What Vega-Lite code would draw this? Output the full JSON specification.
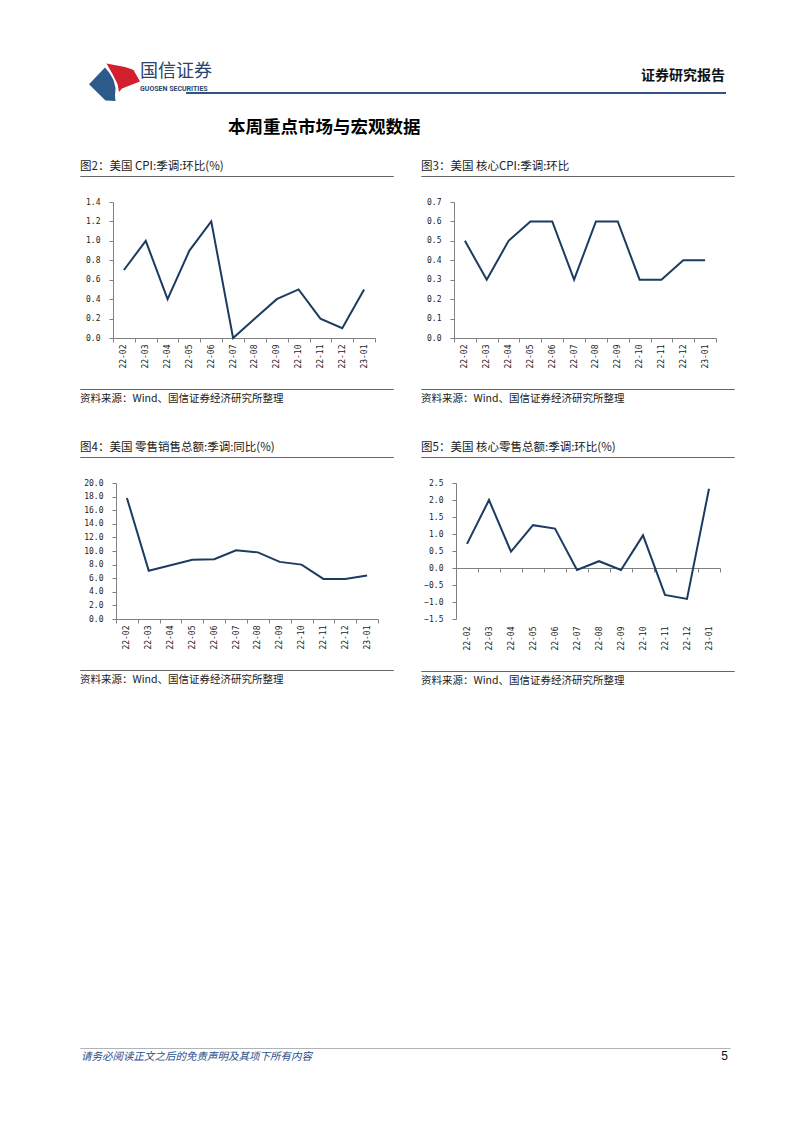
{
  "$schema": "https://vega.github.io/schema/vega-lite/v6.json",
  "padding": {"left": 76, "top": 62, "right": 77, "bottom": 20},
  "background": "white",
  "datasets": {
    "cpi": [
      {"m": "22-02", "v": 0.7}, {"m": "22-03", "v": 1.0}, {"m": "22-04", "v": 0.4}, {"m": "22-05", "v": 0.9},
      {"m": "22-06", "v": 1.2}, {"m": "22-07", "v": 0.0}, {"m": "22-08", "v": 0.2}, {"m": "22-09", "v": 0.4},
      {"m": "22-10", "v": 0.5}, {"m": "22-11", "v": 0.2}, {"m": "22-12", "v": 0.1}, {"m": "23-01", "v": 0.5}
    ],
    "core": [
      {"m": "22-02", "v": 0.5}, {"m": "22-03", "v": 0.3}, {"m": "22-04", "v": 0.5}, {"m": "22-05", "v": 0.6},
      {"m": "22-06", "v": 0.6}, {"m": "22-07", "v": 0.3}, {"m": "22-08", "v": 0.6}, {"m": "22-09", "v": 0.6},
      {"m": "22-10", "v": 0.3}, {"m": "22-11", "v": 0.3}, {"m": "22-12", "v": 0.4}, {"m": "23-01", "v": 0.4}
    ],
    "retail": [
      {"m": "22-02", "v": 17.8}, {"m": "22-03", "v": 7.1}, {"m": "22-04", "v": 7.9}, {"m": "22-05", "v": 8.7},
      {"m": "22-06", "v": 8.8}, {"m": "22-07", "v": 10.1}, {"m": "22-08", "v": 9.8}, {"m": "22-09", "v": 8.4},
      {"m": "22-10", "v": 8.0}, {"m": "22-11", "v": 5.9}, {"m": "22-12", "v": 5.9}, {"m": "23-01", "v": 6.4}
    ],
    "coreRetail": [
      {"m": "22-02", "v": 0.71}, {"m": "22-03", "v": 2.0}, {"m": "22-04", "v": 0.48}, {"m": "22-05", "v": 1.26},
      {"m": "22-06", "v": 1.16}, {"m": "22-07", "v": -0.06}, {"m": "22-08", "v": 0.2}, {"m": "22-09", "v": -0.06},
      {"m": "22-10", "v": 0.96}, {"m": "22-11", "v": -0.79}, {"m": "22-12", "v": -0.91}, {"m": "23-01", "v": 2.33}
    ]
  },
  "vconcat": [
    {
      "spacing": 35,
      "vconcat": [
        {
          "spacing": 16,
          "vconcat": [
            {
              "spacing": -1,
              "hconcat": [
                {
                  "width": 55,
                  "height": 0.01,
                  "data": {"values": [{"part": "logo"}]},
                  "layer": [
                    {
                      "mark": {"type": "point", "shape": "M-0.1,-2.95L1.75,-2.6L2.35,-2.4L2.6,-2.3L3.25,-1.15L1.45,-0.45L1.15,-0.1L1.0,-0.9L0.5,-1.9Z", "size": 400, "filled": true, "color": "#d3202f", "opacity": 1, "strokeWidth": 0},
                      "encoding": {}
                    },
                    {
                      "mark": {"type": "point", "shape": "M-1.85,-0.87L-0.25,-2.55L0.2,-2.0L0.6,-1.3L0.8,-0.5L0.75,0.3L0.8,0.8L-0.2,0.75Z", "size": 400, "filled": true, "color": "#2b5a8b", "opacity": 1, "strokeWidth": 0},
                      "encoding": {}
                    }
                  ]
                },
                {
                  "width": 538,
                  "height": 0.01,
                  "view": {"stroke": "#2f5486", "strokeWidth": 2},
                  "encoding": {
                    "x": {"field": "side", "type": "nominal", "scale": {"type": "point", "domain": ["start", "end"], "padding": 0}, "axis": null}
                  },
                  "layer": [
                    {
                      "data": {"values": [{"side": "start", "label": "国信证券"}]},
                      "mark": {"type": "text", "align": "left", "baseline": "bottom", "dx": -47, "dy": -12, "font": "Noto Sans CJK SC", "fontSize": 18, "color": "#2b4468"},
                      "encoding": {"text": {"field": "label"}}
                    },
                    {
                      "data": {"values": [{"side": "start", "label": "GUOSEN SECURITIES"}]},
                      "mark": {"type": "text", "align": "left", "baseline": "bottom", "dx": -47, "dy": -1, "font": "Roboto", "fontSize": 7, "fontWeight": "bold", "color": "#2b4468"},
                      "encoding": {"text": {"field": "label"}}
                    },
                    {
                      "data": {"values": [{"side": "end", "label": "证券研究报告"}]},
                      "mark": {"type": "text", "align": "right", "baseline": "bottom", "dy": -10, "font": "Noto Sans CJK SC", "fontSize": 14, "fontWeight": "bold", "color": "#111111"},
                      "encoding": {"text": {"field": "label"}}
                    }
                  ]
                }
              ]
            },
            {
              "title": {"text": "本周重点市场与宏观数据", "anchor": "start", "dx": 152, "fontSize": 17.5, "fontWeight": "bold", "offset": 24, "color": "#000000"},
              "spacing": 23,
              "hconcat": [
                {
                  "spacing": 19,
                  "vconcat": [
                    {"width": 313, "height": 0.01, "view": {"stroke": "#666666", "strokeWidth": 1}, "title": {"text": "图2：美国 CPI:季调:环比(%)", "offset": 4}, "data": {"values": []}, "mark": "point", "encoding": {}},
                    {
                      "width": 313, "height": 136,
                      "data": {"name": "cpi"},
                      "mark": {"type": "line", "color": "#1c3b61", "strokeWidth": 2},
                      "encoding": {
                        "x": {"field": "m", "type": "ordinal", "sort": null, "bandPosition": 0.5, "scale": {"type": "band", "paddingInner": 0, "paddingOuter": 0, "range": [33, 295]}, "axis": {"title": null, "labelAngle": 270, "tickBand": "extent", "labelPadding": 2}},
                        "y": {"field": "v", "type": "quantitative", "scale": {"domain": [0, 1.4], "nice": false, "zero": false}, "axis": {"offset": -33, "values": [0, 0.2, 0.4, 0.6, 0.8, 1.0, 1.2, 1.4], "format": ".1f", "title": "　", "titleAngle": 0, "titleX": -10, "titleY": -6, "titleAlign": "left", "titleBaseline": "top", "titleFontSize": 6, "labelPadding": 9}}
                      }
                    },
                    {"width": 313, "height": 0.01, "view": {"stroke": "#666666", "strokeWidth": 1}, "title": {"text": "资料来源：Wind、国信证券经济研究所整理", "orient": "bottom", "offset": 5, "fontSize": 10.5}, "data": {"values": []}, "mark": "point", "encoding": {}}
                  ]
                },
                {
                  "spacing": 19,
                  "vconcat": [
                    {"width": 313, "height": 0.01, "view": {"stroke": "#666666", "strokeWidth": 1}, "title": {"text": "图3：美国 核心CPI:季调:环比", "offset": 4}, "data": {"values": []}, "mark": "point", "encoding": {}},
                    {
                      "width": 313, "height": 136,
                      "data": {"name": "core"},
                      "mark": {"type": "line", "color": "#1c3b61", "strokeWidth": 2},
                      "encoding": {
                        "x": {"field": "m", "type": "ordinal", "sort": null, "bandPosition": 0.5, "scale": {"type": "band", "paddingInner": 0, "paddingOuter": 0, "range": [33, 295]}, "axis": {"title": null, "labelAngle": 270, "tickBand": "extent", "labelPadding": 2}},
                        "y": {"field": "v", "type": "quantitative", "scale": {"domain": [0, 0.7], "nice": false, "zero": false}, "axis": {"offset": -33, "values": [0, 0.1, 0.2, 0.3, 0.4, 0.5, 0.6, 0.7], "format": ".1f", "title": "　", "titleAngle": 0, "titleX": -10, "titleY": -6, "titleAlign": "left", "titleBaseline": "top", "titleFontSize": 6, "labelPadding": 9}}
                      }
                    },
                    {"width": 313, "height": 0.01, "view": {"stroke": "#666666", "strokeWidth": 1}, "title": {"text": "资料来源：Wind、国信证券经济研究所整理", "orient": "bottom", "offset": 5, "fontSize": 10.5}, "data": {"values": []}, "mark": "point", "encoding": {}}
                  ]
                }
              ]
            }
          ]
        },
        {
          "spacing": 23,
          "hconcat": [
            {
              "spacing": 19,
              "vconcat": [
                {"width": 313, "height": 0.01, "view": {"stroke": "#666666", "strokeWidth": 1}, "title": {"text": "图4：美国 零售销售总额:季调:同比(%)", "offset": 4}, "data": {"values": []}, "mark": "point", "encoding": {}},
                {
                  "width": 313, "height": 136,
                  "data": {"name": "retail"},
                  "mark": {"type": "line", "color": "#1c3b61", "strokeWidth": 2},
                  "encoding": {
                    "x": {"field": "m", "type": "ordinal", "sort": null, "bandPosition": 0.5, "scale": {"type": "band", "paddingInner": 0, "paddingOuter": 0, "range": [36, 298]}, "axis": {"title": null, "labelAngle": 270, "tickBand": "extent", "labelPadding": 2}},
                    "y": {"field": "v", "type": "quantitative", "scale": {"domain": [0, 20], "nice": false, "zero": false}, "axis": {"offset": -36, "values": [0, 2, 4, 6, 8, 10, 12, 14, 16, 18, 20], "format": ".1f", "title": "　", "titleAngle": 0, "titleX": -10, "titleY": -6, "titleAlign": "left", "titleBaseline": "top", "titleFontSize": 6, "labelPadding": 9}}
                  }
                },
                {"width": 313, "height": 0.01, "view": {"stroke": "#666666", "strokeWidth": 1}, "title": {"text": "资料来源：Wind、国信证券经济研究所整理", "orient": "bottom", "offset": 5, "fontSize": 10.5}, "data": {"values": []}, "mark": "point", "encoding": {}}
              ]
            },
            {
              "spacing": 19,
              "vconcat": [
                {"width": 313, "height": 0.01, "view": {"stroke": "#666666", "strokeWidth": 1}, "title": {"text": "图5：美国 核心零售总额:季调:环比(%)", "offset": 4}, "data": {"values": []}, "mark": "point", "encoding": {}},
                {
                  "width": 313, "height": 136,
                  "data": {"name": "coreRetail"},
                  "mark": {"type": "line", "color": "#1c3b61", "strokeWidth": 2},
                  "encoding": {
                    "x": {"field": "m", "type": "ordinal", "sort": null, "bandPosition": 0.5, "scale": {"type": "band", "paddingInner": 0, "paddingOuter": 0, "range": [35, 299]}, "axis": {"title": null, "labelAngle": 270, "tickBand": "extent", "offset": -51, "labelPadding": 54}},
                    "y": {"field": "v", "type": "quantitative", "scale": {"domain": [-1.5, 2.5], "nice": false, "zero": false}, "axis": {"offset": -35, "values": [-1.5, -1, -0.5, 0, 0.5, 1, 1.5, 2, 2.5], "format": ".1f", "title": "　", "titleAngle": 0, "titleX": -10, "titleY": -6, "titleAlign": "left", "titleBaseline": "top", "titleFontSize": 6, "labelPadding": 9}}
                  }
                },
                {"width": 313, "height": 0.01, "view": {"stroke": "#666666", "strokeWidth": 1}, "title": {"text": "资料来源：Wind、国信证券经济研究所整理", "orient": "bottom", "offset": 5, "fontSize": 10.5}, "data": {"values": []}, "mark": "point", "encoding": {}}
              ]
            }
          ]
        }
      ]
    },
    {
      "width": 650,
      "height": 0.01,
      "view": {"stroke": "#b0b4b8", "strokeWidth": 1},
      "encoding": {
        "x": {"field": "side", "type": "nominal", "scale": {"type": "point", "domain": ["start", "end"], "padding": 0}, "axis": null}
      },
      "layer": [
        {
          "data": {"values": [{"side": "start", "label": "请务必阅读正文之后的免责声明及其项下所有内容"}]},
          "mark": {"type": "text", "align": "left", "baseline": "top", "dx": 1, "dy": 4, "font": "Noto Sans CJK SC", "fontSize": 10.5, "fontStyle": "italic", "color": "#1f4f8c"},
          "encoding": {"text": {"field": "label"}}
        },
        {
          "data": {"values": [{"side": "end", "label": "5"}]},
          "mark": {"type": "text", "align": "right", "baseline": "top", "dx": -2, "dy": 3, "font": "Liberation Sans", "fontSize": 12, "color": "#111111"},
          "encoding": {"text": {"field": "label"}}
        }
      ]
    }
  ],
  "spacing": 359,
  "config": {
    "font": "Noto Sans CJK SC",
    "view": {"stroke": null},
    "title": {"font": "Noto Sans CJK SC", "fontSize": 11.5, "fontWeight": "normal", "anchor": "start", "color": "#1a1a1a"},
    "axis": {"labelFont": "DejaVu Sans Mono", "labelFontSize": 8, "labelColor": "#222222", "domainColor": "#808080", "tickColor": "#808080", "tickSize": 4, "grid": false, "titleFont": "Noto Sans CJK SC"}
  }
}
